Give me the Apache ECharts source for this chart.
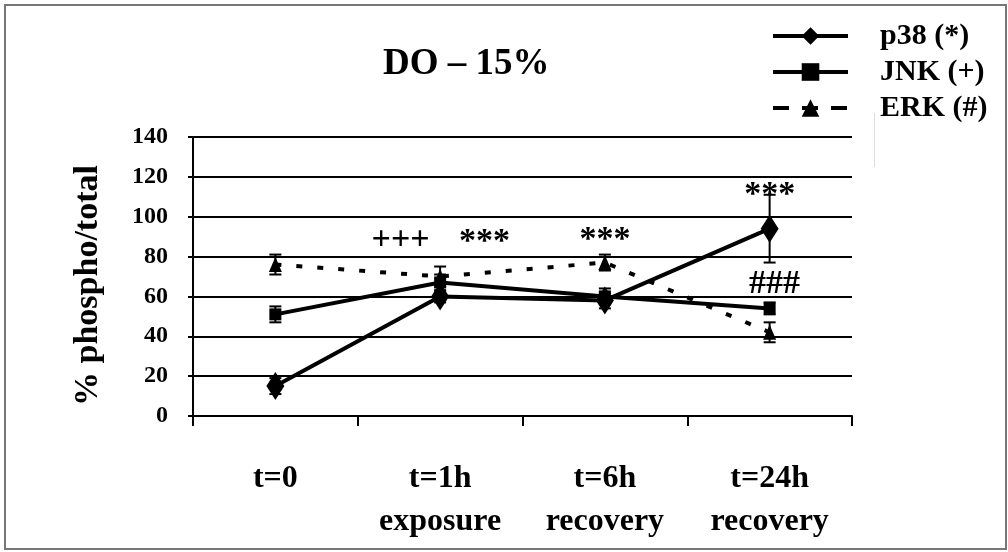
<!DOCTYPE html>
<html><head><meta charset="utf-8">
<script src="https://cdn.jsdelivr.net/npm/echarts@6/dist/echarts.min.js"></script>
<style>html,body{margin:0;padding:0;background:#fff}#c{width:1008px;height:552px}</style>
</head><body><div id="c"></div>
<script>
// ---- data ----
const categories = ['t=0', 't=1h\nexposure', 't=6h\nrecovery', 't=24h\nrecovery'];
const seriesNames = ['p38 (*)', 'JNK (+)', 'ERK (#)'];
const p38 = [15, 60, 58, 94];
const p38Err = [4, 3, 4, 17];
const jnk = [51, 67, 60, 54];
const jnkErr = [4, 4, 4, 3];
const erk = [76, 70, 77, 42];
const erkErr = [5, 5, 4, 5];
const yMin = 0, yMax = 140, yStep = 20;
// significance marks: [position along categories, value, text]
const annotations = [[0.76, 88, '+++'], [1.27, 87, '***'], [2.0, 88, '***'], [3.0, 111, '***'], [3.03, 66, '###']];

const FONT = "'Liberation Serif', 'Times New Roman', serif";

function errRender(params, api) {
  const i = api.value(0), v = api.value(1), e = api.value(2);
  const x = api.coord([i, v])[0];
  const top = api.coord([i, v + e])[1];
  const bot = api.coord([i, v - e])[1];
  const w = 6;
  const st = {stroke: '#000', lineWidth: 2};
  return {type: 'group', children: [
    {type: 'line', shape: {x1: x, y1: top, x2: x, y2: bot}, style: st},
    {type: 'line', shape: {x1: x - w, y1: top, x2: x + w, y2: top}, style: st},
    {type: 'line', shape: {x1: x - w, y1: bot, x2: x + w, y2: bot}, style: st}
  ]};
}
function errData(vals, errs) { return vals.map((v, i) => [i, v, errs[i]]); }

const chart = echarts.init(document.getElementById('c'), null, {renderer: 'canvas'});
chart.setOption({
  animation: false,
  backgroundColor: '#fff',
  title: {
    text: 'DO – 15%', left: 383, top: 46, padding: 0,
    textStyle: {fontFamily: FONT, fontWeight: 'bold', fontSize: 37, color: '#000'}
  },
  legend: {
    orient: 'vertical', left: 771, top: 21, padding: 0,
    itemWidth: 75, itemHeight: 22, itemGap: 6,
    textStyle: {fontFamily: FONT, fontWeight: 'bold', fontSize: 30, color: '#000', padding: [0, 0, 0, 27]},
    data: [
      {name: seriesNames[0], lineStyle: {width: 4}},
      {name: seriesNames[1], lineStyle: {width: 4}},
      {name: seriesNames[2], lineStyle: {type: [16, 13], width: 4}}
    ]
  },
  grid: {left: 193, right: 156, top: 137, bottom: 136},
  xAxis: [{
    type: 'category', data: categories, boundaryGap: true,
    axisLine: {lineStyle: {color: '#000', width: 2}},
    axisTick: {show: true, length: 10, lineStyle: {color: '#000', width: 2}},
    axisLabel: {fontFamily: FONT, fontWeight: 'bold', fontSize: 32, color: '#000', margin: 41, lineHeight: 43, interval: 0}
  }, {
    type: 'value', min: -0.5, max: 3.5, show: false
  }],
  yAxis: {
    type: 'value', min: yMin, max: yMax, interval: yStep,
    name: '% phospho/total', nameLocation: 'middle', nameGap: 88, nameRotate: 90,
    nameTextStyle: {fontFamily: FONT, fontWeight: 'bold', fontSize: 34, color: '#000', padding: [0, 18, 0, 0]},
    axisLine: {show: true, onZero: false, lineStyle: {color: '#000', width: 2}},
    axisTick: {show: true, length: 5, lineStyle: {color: '#000', width: 2}},
    splitLine: {show: true, lineStyle: {color: '#000', width: 2}},
    axisLabel: {fontFamily: FONT, fontWeight: 'bold', fontSize: 24, color: '#000', margin: 25}
  },
  series: [
    {name: seriesNames[0], type: 'line', data: p38, symbol: 'diamond', symbolSize: [18, 28],
     itemStyle: {color: '#000'}, lineStyle: {color: '#000', width: 4}, z: 5},
    {name: seriesNames[1], type: 'line', data: jnk, symbol: 'rect', symbolSize: 12,
     itemStyle: {color: '#000'}, lineStyle: {color: '#000', width: 4}, z: 4},
    {name: seriesNames[2], type: 'line', data: erk, symbol: 'triangle', symbolSize: [13, 15],
     itemStyle: {color: '#000'}, lineStyle: {color: '#000', width: 4, type: [6, 15]}, z: 3},
    {type: 'custom', renderItem: errRender, data: errData(p38, p38Err), z: 6},
    {type: 'custom', renderItem: errRender, data: errData(jnk, jnkErr), z: 6},
    {type: 'custom', renderItem: errRender, data: errData(erk, erkErr), z: 6},
    {type: 'scatter', xAxisIndex: 1, symbolSize: 0, z: 10, silent: true,
     data: annotations.map(a => [a[0], a[1]]),
     label: {show: true, position: 'inside', formatter: p => annotations[p.dataIndex][2],
       fontFamily: FONT, fontWeight: 'bold', fontSize: 34, color: '#000', textBorderWidth: 0, opacity: 1}}
  ],
  graphic: [
    {type: 'rect', shape: {x: 5, y: 5, width: 1001, height: 544}, style: {fill: null, stroke: '#777', lineWidth: 2}, silent: true},
    {type: 'line', shape: {x1: 874.5, y1: 113, x2: 874.5, y2: 167}, style: {stroke: '#ddd', lineWidth: 1}, silent: true}
  ]
});
</script></body></html>
